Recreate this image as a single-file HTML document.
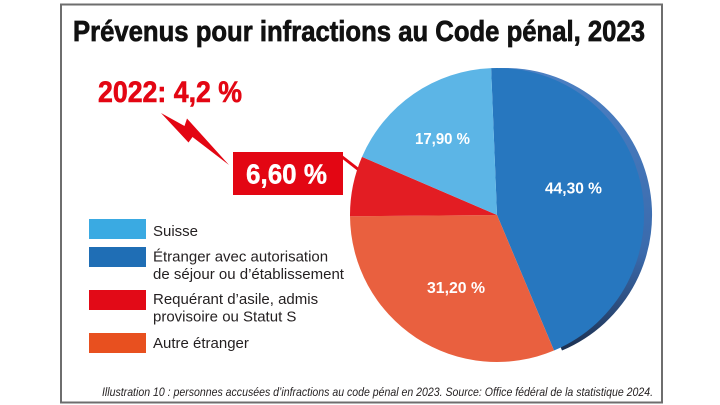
<!DOCTYPE html>
<html>
<head>
<meta charset="utf-8">
<style>
html,body{margin:0;padding:0;background:#fff;}
svg{display:block;}
</style>
</head>
<body>
<svg width="720" height="405" viewBox="0 0 720 405" xmlns="http://www.w3.org/2000/svg">
  <defs>
    <linearGradient id="rim" x1="0" y1="68" x2="0" y2="352" gradientUnits="userSpaceOnUse">
      <stop offset="0" stop-color="#4c80c3"/>
      <stop offset="0.65" stop-color="#3a6aac"/>
      <stop offset="0.85" stop-color="#2b4b7a"/>
      <stop offset="1" stop-color="#1b2f4f"/>
    </linearGradient>
  </defs>
  <rect x="0" y="0" width="720" height="405" fill="#fff"/>
  <!-- frame -->
  <rect x="61" y="4.5" width="601" height="398" fill="#fff" stroke="#6e6e6e" stroke-width="2"/>

  <!-- title -->
  <text x="73" y="41" font-family="'Liberation Sans Narrow','Liberation Sans',sans-serif" font-weight="bold" font-size="29" fill="#111" stroke="#111" stroke-width="0.7" textLength="572" lengthAdjust="spacingAndGlyphs">Prévenus pour infractions au Code pénal, 2023</text>

  <!-- 2022 label -->
  <text x="98" y="102" font-family="'Liberation Sans Narrow','Liberation Sans',sans-serif" font-weight="bold" font-size="30" fill="#e30613" stroke="#e30613" stroke-width="0.6" textLength="144" lengthAdjust="spacingAndGlyphs">2022: 4,2 %</text>

  <!-- lightning bolt -->
  <polygon points="161,113 184.5,126 187,118.5 229,165 192.5,137 188.5,142.5" fill="#e30613"/>

  <!-- connector line -->
  <line x1="341" y1="156" x2="359" y2="170" stroke="#e30613" stroke-width="3"/>

  <!-- red box -->
  <rect x="233" y="152" width="110" height="43" fill="#e30613"/>
  <text x="246" y="183.5" font-family="'Liberation Sans Narrow','Liberation Sans',sans-serif" font-weight="bold" font-size="28" fill="#fff" stroke="#fff" stroke-width="0.4" textLength="81" lengthAdjust="spacingAndGlyphs">6,60 %</text>

  <!-- pie -->
  <path d="M505,215 L499.1,68.1 A147,147 0 0 1 562.0,350.5 Z" fill="url(#rim)"/>
  <path d="M497,215 L491.1,68.1 A147,147 0 0 1 554.0,350.5 Z" fill="#2777bf"/>
  <path d="M497,215 L554.0,350.5 A147,147 0 0 1 350,216.3 Z" fill="#e9603f"/>
  <path d="M497,215 L350,216.3 A147,147 0 0 1 362.0,156.9 Z" fill="#e31d23"/>
  <path d="M497,215 L362.0,156.9 A147,147 0 0 1 491.1,68.1 Z" fill="#5cb5e6"/>

  <!-- pie labels -->
  <g font-family="'Liberation Sans Narrow','Liberation Sans',sans-serif" font-weight="bold" font-size="16" fill="#fff">
    <text x="415" y="144" textLength="55" lengthAdjust="spacingAndGlyphs">17,90 %</text>
    <text x="545" y="193.5" textLength="57" lengthAdjust="spacingAndGlyphs">44,30 %</text>
    <text x="427" y="293" textLength="58" lengthAdjust="spacingAndGlyphs">31,20 %</text>
  </g>

  <!-- legend -->
  <rect x="89" y="219" width="57" height="20" fill="#3aaae2"/>
  <rect x="89" y="247" width="57" height="20" fill="#1f6eb5"/>
  <rect x="89" y="290" width="57" height="20" fill="#e20a17"/>
  <rect x="89" y="333" width="57" height="20" fill="#e8501f"/>
  <g font-family="'Liberation Sans',sans-serif" font-size="15" fill="#231f20">
    <text x="153" y="236">Suisse</text>
    <text x="153" y="261.5">Étranger avec autorisation</text>
    <text x="153" y="279">de séjour ou d’établissement</text>
    <text x="153" y="304">Requérant d’asile, admis</text>
    <text x="153" y="321.5">provisoire ou Statut S</text>
    <text x="153" y="348">Autre étranger</text>
  </g>

  <!-- footnote -->
  <text x="102" y="396" font-family="'Liberation Sans Narrow','Liberation Sans',sans-serif" font-style="italic" font-size="12" fill="#231f20" textLength="551" lengthAdjust="spacingAndGlyphs">Illustration 10 : personnes accusées d’infractions au code pénal en 2023. Source: Office fédéral de la statistique 2024.</text>
</svg>
</body>
</html>
